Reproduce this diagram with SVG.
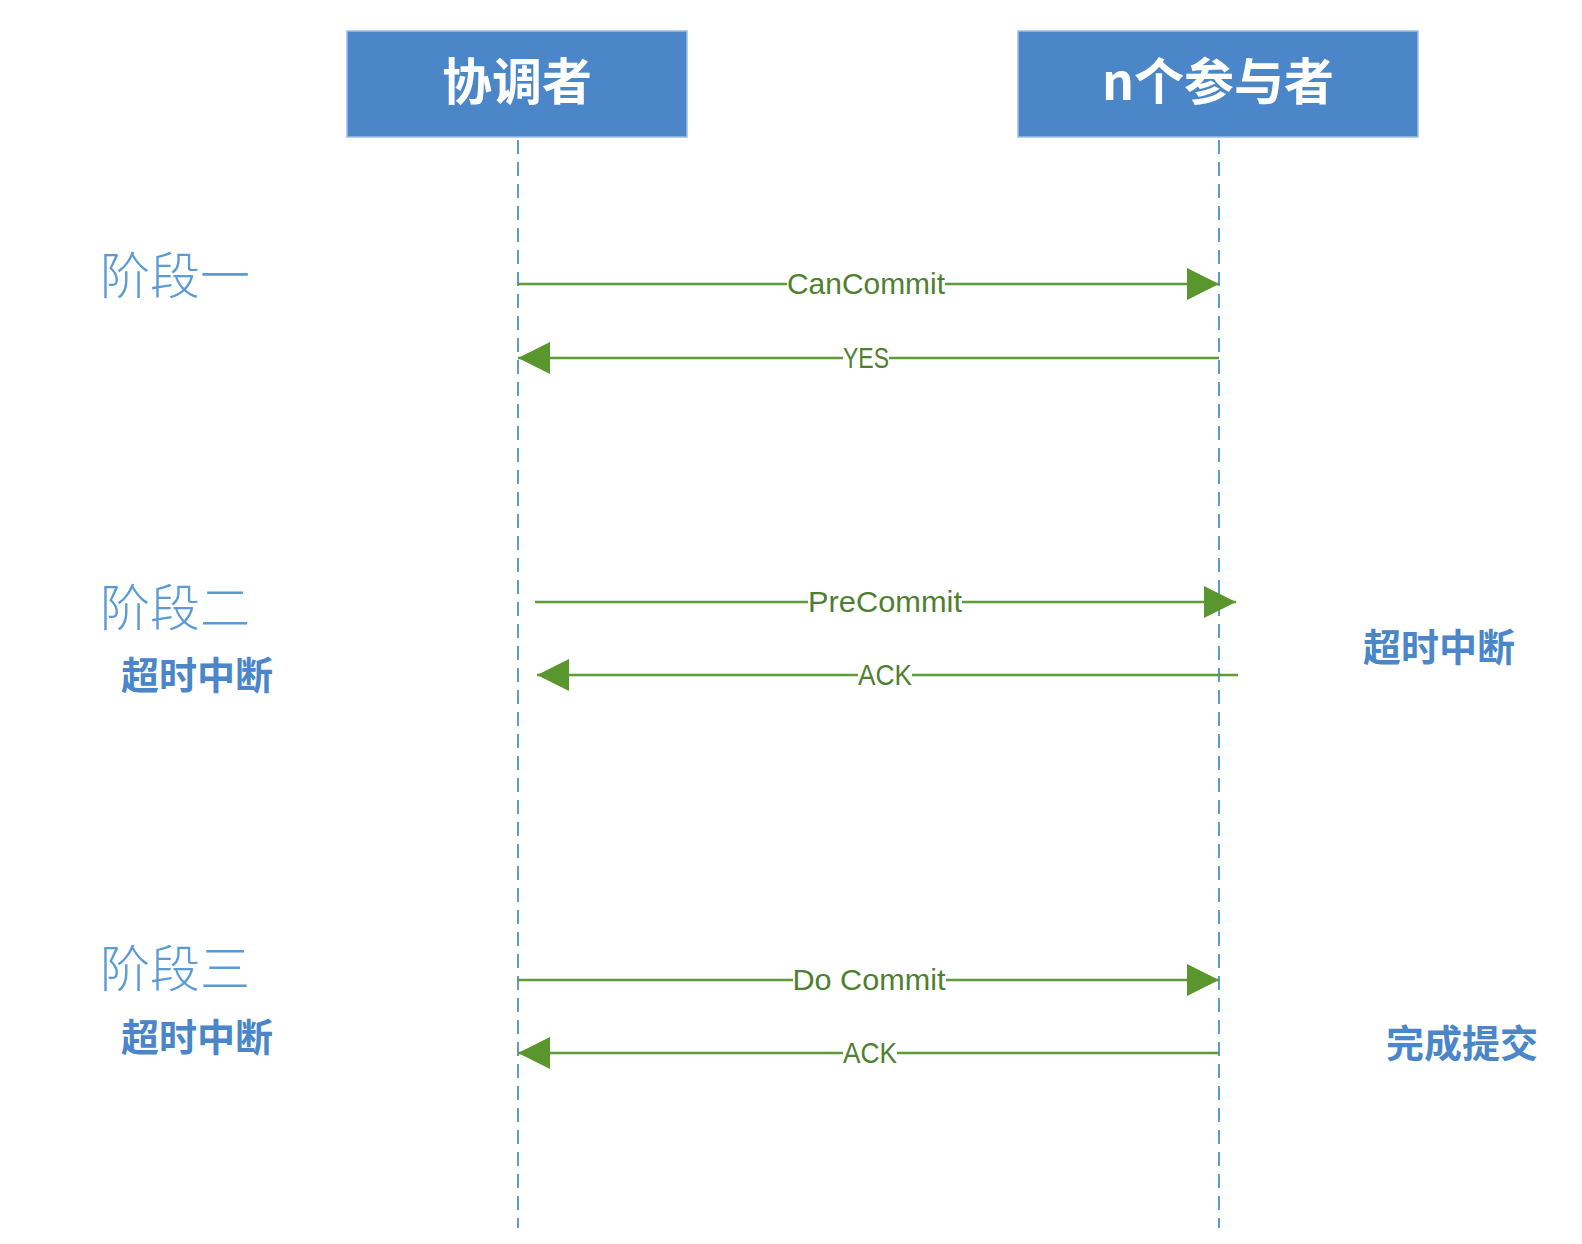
<svg xmlns="http://www.w3.org/2000/svg" width="1582" height="1244" viewBox="0 0 1582 1244">
<style>
.box{fill:#4a86c8;stroke:#9dbfe6;stroke-width:1.5}
.hdr{font-family:"Noto Sans CJK SC","Liberation Sans",sans-serif;font-size:50px;font-weight:bold;fill:#ffffff;text-anchor:middle}
.life{stroke:#5b9bd5;stroke-width:2;stroke-dasharray:14 8;fill:none}
.msg{stroke:#5e9a38;stroke-width:2.5;fill:none}
.lbl{font-family:"Liberation Sans","Noto Sans",sans-serif;font-size:29px;fill:#4f7f30;text-anchor:middle}
.bg{fill:#ffffff}
.stage{font-family:"Noto Sans CJK SC",sans-serif;font-size:50px;font-weight:300;fill:#5b9bd5}
.note{font-family:"Noto Sans CJK SC",sans-serif;font-size:38px;font-weight:bold;fill:#4a86c8}
</style>
<defs>
<marker id="ah" viewBox="0 0 32 32" refX="32" refY="16" markerWidth="32" markerHeight="32" markerUnits="userSpaceOnUse" orient="auto">
<path d="M0,0 L32,16 L0,32 Z" fill="#5a962e"/>
</marker>
</defs>
<g id="coordinator">
<rect class="box" x="347" y="31" width="340" height="106"/>
<text class="hdr" x="517" y="100">协调者</text>
</g>
<g id="participants">
<rect class="box" x="1018" y="31" width="400" height="106"/>
<text class="hdr" x="1218" y="100">n个参与者</text>
</g>
<g id="lifelines">
<line class="life" x1="518" y1="140" x2="518" y2="1228"/>
<line class="life" x1="1219" y1="140" x2="1219" y2="1228"/>
</g>
<g id="stage-labels">
<text class="stage" x="100" y="294">阶段一</text>
<text class="stage" x="100" y="626">阶段二</text>
<text class="stage" x="100" y="987">阶段三</text>
<text class="note" x="121" y="689">超时中断</text>
<text class="note" x="1363" y="661">超时中断</text>
<text class="note" x="121" y="1051">超时中断</text>
<text class="note" x="1386" y="1057">完成提交</text>
</g>
<g id="connectors">
<line class="msg" x1="518" y1="284" x2="1219" y2="284" marker-end="url(#ah)"/>
<rect class="bg" x="787" y="268" width="158" height="32"/>
<text class="lbl" x="866" y="294" textLength="158" lengthAdjust="spacingAndGlyphs">CanCommit</text>
<line class="msg" x1="1219" y1="358" x2="518" y2="358" marker-end="url(#ah)"/>
<rect class="bg" x="843" y="342" width="46" height="32"/>
<text class="lbl" x="866" y="368" textLength="46" lengthAdjust="spacingAndGlyphs">YES</text>
<line class="msg" x1="535" y1="602" x2="1236" y2="602" marker-end="url(#ah)"/>
<rect class="bg" x="808" y="586" width="154" height="32"/>
<text class="lbl" x="885" y="612" textLength="154" lengthAdjust="spacingAndGlyphs">PreCommit</text>
<line class="msg" x1="1238" y1="675" x2="537" y2="675" marker-end="url(#ah)"/>
<rect class="bg" x="858" y="659" width="54" height="32"/>
<text class="lbl" x="885" y="685" textLength="54" lengthAdjust="spacingAndGlyphs">ACK</text>
<line class="msg" x1="518" y1="980" x2="1219" y2="980" marker-end="url(#ah)"/>
<rect class="bg" x="793" y="964" width="153" height="32"/>
<text class="lbl" x="869" y="990" textLength="153" lengthAdjust="spacingAndGlyphs">Do Commit</text>
<line class="msg" x1="1219" y1="1053" x2="518" y2="1053" marker-end="url(#ah)"/>
<rect class="bg" x="843" y="1037" width="54" height="32"/>
<text class="lbl" x="870" y="1063" textLength="54" lengthAdjust="spacingAndGlyphs">ACK</text>
</g>
</svg>
